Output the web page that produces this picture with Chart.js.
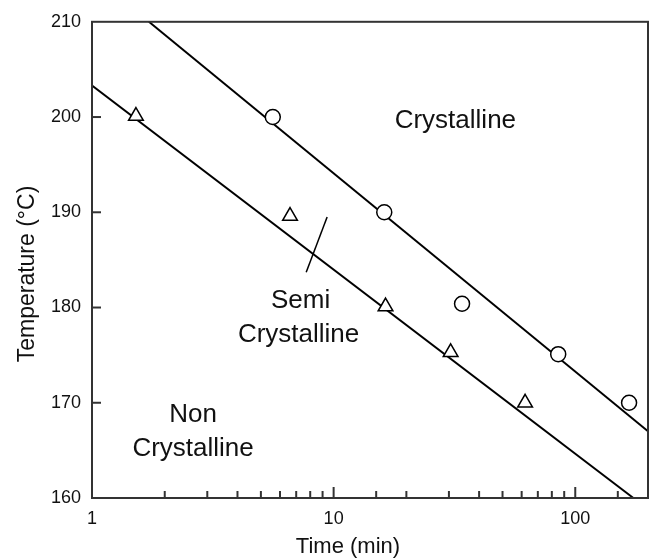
<!DOCTYPE html>
<html>
<head>
<meta charset="utf-8">
<script src="https://cdn.jsdelivr.net/npm/chart.js@4.4.1/dist/chart.umd.min.js"></script>
<style>
  html, body { margin: 0; padding: 0; background: #fff; }
  #wrap { width: 658px; height: 560px; }
</style>
</head>
<body>
<div id="wrap"><canvas id="chart" width="658" height="560"></canvas></div>
<script>
// Data
const circleTimes = [5.6, 16.2, 34, 85, 167];
const circleTemps = [200, 190, 180.4, 175.1, 170];
const triangleTimes = [1.52, 6.6, 16.4, 30.5, 62];
const triangleTemps = [200.1, 189.6, 180.1, 175.3, 170];

// Boundary lines (end points)
const upperLineTimes = [1.72, 200];
const upperLineTemps = [210, 167.0];
const lowerLineTimes = [1, 174];
const lowerLineTemps = [203.3, 160];

// Pointer from "Semi Crystalline" label to region
const pointerTimes = [9.4, 7.7];
const pointerTemps = [189.5, 183.7];

// Axis ticks
const xTickLabels = [1, 10, 100];
const yTickValues = [160, 170, 180, 190, 200, 210];

// Region labels
const regionTexts = [["Crystalline"], ["Semi", "Crystalline"], ["Non", "Crystalline"]];
const regionTimes = [31.9, 7.3, 2.62];
const regionTemps = [199.6, 180.7, 168.7];

const FONT = '"Liberation Sans", Arial, Helvetica, sans-serif';

function toPoints(xs, ys) {
  return xs.map((x, i) => ({ x: x, y: ys[i] }));
}

// Frame, inward ticks, region labels and axis titles
const decorPlugin = {
  id: "decor",
  afterDatasetsDraw(chart) {
    const ctx = chart.ctx;
    const area = chart.chartArea;
    const xs = chart.scales.x;
    const ys = chart.scales.y;

    ctx.save();
    ctx.strokeStyle = "#333";
    ctx.lineWidth = 2;

    // ticks on x (pointing up into the plot)
    xs.ticks.forEach((t) => {
      const px = xs.getPixelForValue(t.value);
      if (px <= area.left + 1 || px >= area.right - 1) return;
      const len = xTickLabels.includes(t.value) ? 11 : 7;
      ctx.beginPath();
      ctx.moveTo(px, area.bottom);
      ctx.lineTo(px, area.bottom - len);
      ctx.stroke();
    });

    // ticks on y (pointing right into the plot)
    yTickValues.forEach((v) => {
      const py = ys.getPixelForValue(v);
      if (py <= area.top + 1 || py >= area.bottom - 1) return;
      ctx.beginPath();
      ctx.moveTo(area.left, py);
      ctx.lineTo(area.left + 9, py);
      ctx.stroke();
    });

    ctx.strokeRect(area.left, area.top, area.right - area.left, area.bottom - area.top);

    // region labels
    ctx.fillStyle = "#111";
    ctx.font = "26px " + FONT;
    ctx.textAlign = "center";
    ctx.textBaseline = "middle";
    regionTexts.forEach((lines, i) => {
      const cx = xs.getPixelForValue(regionTimes[i]);
      const cy = ys.getPixelForValue(regionTemps[i]);
      lines.forEach((line, j) => {
        ctx.fillText(line, cx - (j > 0 && i === 1 ? 2 : 0), cy + j * 34);
      });
    });

    // axis titles
    ctx.font = "22px " + FONT;
    ctx.fillText("Time (min)", 348, 547);
    ctx.font = "23px " + FONT;
    ctx.translate(28, 274);
    ctx.rotate(-Math.PI / 2);
    ctx.fillText("Temperature (°C)", 0, 0);
    ctx.restore();
  },
};

const lineStyle = {
  type: "line",
  borderColor: "#000",
  borderWidth: 2,
  pointRadius: 0,
  fill: false,
  tension: 0,
  order: 2,
};

new Chart(document.getElementById("chart"), {
  type: "scatter",
  data: {
    datasets: [
      {
        label: "Crystalline onset",
        data: toPoints(circleTimes, circleTemps),
        pointStyle: "circle",
        pointRadius: 7.5,
        borderColor: "#000",
        borderWidth: 1.5,
        backgroundColor: "#fff",
        order: 0,
      },
      {
        label: "Semi crystalline onset",
        data: toPoints(triangleTimes, triangleTemps),
        pointStyle: "triangle",
        pointRadius: 8.5,
        borderColor: "#000",
        borderWidth: 1.5,
        backgroundColor: "#fff",
        order: 0,
      },
      Object.assign({ label: "Upper boundary", data: toPoints(upperLineTimes, upperLineTemps) }, lineStyle),
      Object.assign({ label: "Lower boundary", data: toPoints(lowerLineTimes, lowerLineTemps) }, lineStyle),
      Object.assign({ label: "Pointer", data: toPoints(pointerTimes, pointerTemps) }, lineStyle, { borderWidth: 1.5 }),
    ],
  },
  options: {
    responsive: false,
    animation: false,
    events: [],
    layout: { padding: { top: 20, right: 6, left: 0, bottom: 0 } },
    plugins: {
      legend: { display: false },
      tooltip: { enabled: false },
    },
    scales: {
      x: {
        type: "logarithmic",
        min: 1,
        max: 200,
        afterFit: (s) => { s.height = 62; },
        grid: { display: false, drawTicks: false },
        border: { display: false },
        ticks: {
          autoSkip: false,
          maxRotation: 0,
          padding: 10,
          color: "#111",
          font: { family: FONT, size: 18 },
          callback: (v) => (xTickLabels.includes(v) ? String(v) : ""),
        },
      },
      y: {
        type: "linear",
        min: 160,
        max: 210,
        afterFit: (s) => { s.width = 92; },
        grid: { display: false, drawTicks: false },
        border: { display: false },
        ticks: {
          stepSize: 10,
          padding: 11,
          color: "#111",
          font: { family: FONT, size: 18 },
        },
      },
    },
  },
  plugins: [decorPlugin],
});
</script>
</body>
</html>
